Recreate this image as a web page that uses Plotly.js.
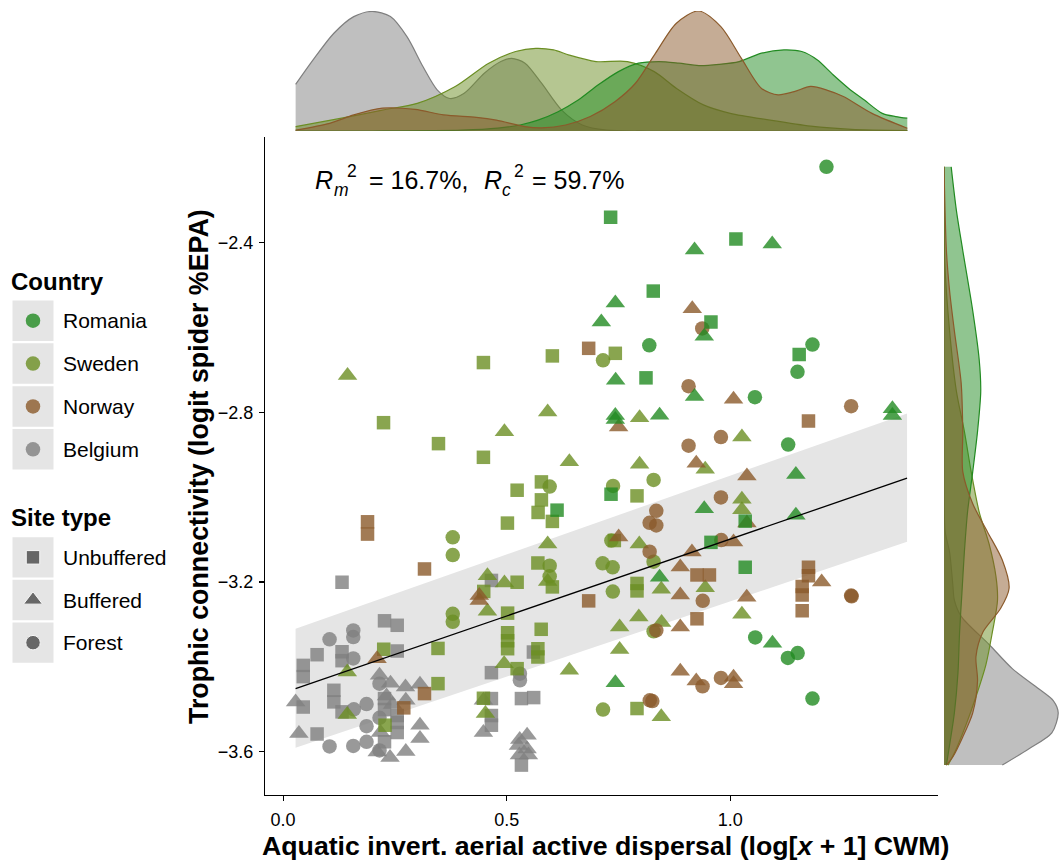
<!DOCTYPE html>
<html>
<head>
<meta charset="utf-8">
<script src="https://cdn.plot.ly/plotly-3.0.1.min.js"></script>
<style>html,body{margin:0;padding:0;background:#fff;}#chart{width:1061px;height:862px;}</style>
</head>
<body>
<div id="chart"></div>
<script>
// ---------------- DATA ----------------
const countries = ['Romania', 'Sweden', 'Norway', 'Belgium'];
const siteTypes = ['Unbuffered', 'Buffered', 'Forest'];
const xTickVals = [0, 0.5, 1.0];
const xTickText = ['0.0', '0.5', '1.0'];
const yTickVals = [-3.6, -3.2, -2.8, -2.4];
const yTickText = ['\u22123.6', '\u22123.2', '\u22122.8', '\u22122.4'];
const r2Marginal = '16.7%';
const r2Conditional = '59.7%';

// Belgium
const belgiumUnbufferedX = [0.1318,0.2268,0.2552,0.0760,0.1318,0.1318,0.2552,0.0451,0.0451,0.1135,0.1135,0.0451,0.1318,0.2268,0.2268,0.2552,0.2552,0.2552,0.0760,0.2268,0.4659,0.5598,0.4659,0.4659,0.5330,0.5604,0.4659,0.4659,0.5330];
const belgiumUnbufferedY = [-3.2005,-3.2914,-3.302,-3.3713,-3.3643,-3.3854,-3.3626,-3.3965,-3.423,-3.4552,-3.4825,-3.4947,-3.506,-3.4747,-3.5006,-3.5147,-3.5311,-3.5547,-3.5582,-3.5765,-3.1962,-3.365,-3.4136,-3.4747,-3.4747,-3.4724,-3.5147,-3.5375,-3.6315];
const belgiumBufferedX = [0.2156,0.2402,0.2737,0.3061,0.0279,0.2313,0.2744,0.0353,0.3061,0.3061,0.2179,0.2105,0.2391,0.2744,0.4480,0.4480,0.5292,0.5457,0.5263,0.5457,0.5285,0.5486,0.2447];
const belgiumBufferedY = [-3.42,-3.4383,-3.4472,-3.4407,-3.4825,-3.4689,-3.4787,-3.557,-3.5375,-3.5687,-3.5547,-3.6005,-3.6134,-3.5993,-3.4787,-3.5547,-3.5711,-3.561,-3.5852,-3.5934,-3.6075,-3.608,-3.4889];
const belgiumForestX = [0.1569,0.1569,0.1039,0.1569,0.2156,0.1866,0.1582,0.2156,0.1866,0.1866,0.1039,0.1569,0.2156,0.5296,0.5296];
const belgiumForestY = [-3.3142,-3.3297,-3.3349,-3.38,-3.4395,-3.4877,-3.4999,-3.5201,-3.5398,-3.5765,-3.5876,-3.5864,-3.597,-3.416,-3.4317];

// Sweden
const swedenUnbufferedX = [0.2246,0.3475,0.448,0.448,0.6022,0.743,0.5777,0.5777,0.5703,0.5234,0.6022,0.5017,0.5698,0.6022,0.5234,0.4487,0.5021,0.5772,0.5021,0.5021,0.5021,0.3464,0.225,0.5698,0.5698,0.5234,0.3464,0.448,0.2279,0.7915,0.7915,0.7915,0.7915,0.7408];
const swedenUnbufferedY = [-2.8244,-2.8738,-2.906,-2.6827,-2.667,-2.6609,-2.964,-3.0063,-3.036,-2.9836,-3.0571,-3.0611,-3.1551,-3.2115,-3.2005,-3.2221,-3.2733,-3.3114,-3.3196,-3.3384,-3.3572,-3.3565,-3.3584,-3.3572,-3.3767,-3.4042,-3.4395,-3.474,-3.5375,-2.9969,-3.2033,-3.2209,-3.4982,-3.1022];
const swedenBufferedX = [0.1441,0.495,0.5917,0.6402,0.7973,1.0261,0.7973,0.9441,1.0261,1.0261,0.5917,0.5917,0.457,0.495,0.457,0.7966,0.8458,0.9441,1.0261,0.7955,0.7526,0.8465,0.7526,0.6402,0.4943,0.1435,0.1435,0.4525,0.8458];
const swedenBufferedY = [-2.7133,-2.8456,-2.7995,-2.9166,-2.8127,-2.8583,-2.9224,-2.9342,-3.0047,-3.0294,-3.1105,-3.1986,-3.185,-3.2021,-3.2691,-3.1105,-3.2169,-3.2132,-3.2757,-3.2827,-3.3062,-3.2954,-3.3589,-3.4082,-3.3925,-3.412,-3.5123,-3.51,-3.5177];
const swedenForestX = [0.7155,0.5962,0.3794,0.3794,0.5962,0.5962,0.3794,0.3794,0.7379,0.8286,0.7341,0.8286,0.7146,0.737,0.7374,0.8286,0.7155];
const swedenForestY = [-2.6773,-2.9749,-3.0947,-3.1363,-3.1615,-3.1864,-3.275,-3.2938,-2.9734,-2.9593,-3.1022,-3.1521,-3.1558,-3.1652,-3.2226,-3.3161,-3.5006];

// Norway
const norwayUnbufferedX = [0.6834,0.1888,0.1888,0.3162,0.3162,0.2699,0.6834,0.9256,0.9535,0.9256,1.175,1.175,1.175,1.1609,1.1609,1.1609];
const norwayUnbufferedY = [-2.6491,-3.058,-3.087,-3.1692,-3.463,-3.4966,-3.2444,-3.1833,-3.1833,-3.2867,-2.8207,-3.1652,-3.185,-3.2103,-3.2303,-3.2679];
const norwayBufferedX = [0.9151,1.0074,0.7504,0.924,1.0373,0.7504,1.0074,0.9144,0.8883,0.8883,1.0369,1.2045,0.8883,0.8883,0.924,1.0074,1.0074,0.4387,0.4387,0.2101,1.0373];
const norwayBufferedY = [-2.5558,-2.769,-2.8343,-2.9201,-2.9499,-3.094,-3.1058,-3.1293,-3.1645,-3.2303,-3.2357,-3.1998,-3.3062,-3.4101,-3.4331,-3.4247,-3.4395,-3.232,-3.2437,-3.3807,-3.0611];
const norwayForestX = [0.9374,0.9068,0.9068,0.9792,1.2704,0.9792,0.8346,0.8197,0.8346,0.9799,0.8197,0.9385,0.8346,1.2704,1.2715,0.9381,0.9792,0.8201,0.8257];
const norwayForestY = [-2.6021,-2.7384,-2.8785,-2.8583,-2.7854,-3.0007,-3.0322,-3.0604,-3.0665,-3.101,-3.1286,-3.2444,-3.3142,-3.232,-3.2338,-3.4458,-3.4261,-3.4787,-3.4806];

// Romania
const romaniaUnbufferedX = [0.7325,1.0127,0.8279,0.9569,1.1542,0.8116,0.7334,1.0335,0.9569,1.0335,0.6127];
const romaniaUnbufferedY = [-2.3403,-2.3913,-2.5142,-2.5871,-2.6639,-2.7187,-2.993,-3.0564,-3.1065,-3.1652,-3.0306];
const romaniaBufferedX = [1.0939,0.9202,0.743,0.7117,0.9419,0.7437,0.9202,0.743,0.743,0.842,1.3627,1.3627,1.1468,0.9419,1.1468,0.842,1.0945,0.743];
const romaniaBufferedY = [-2.4031,-2.4172,-2.5424,-2.5871,-2.6209,-2.7243,-2.7626,-2.8073,-2.8167,-2.8066,-2.7915,-2.8073,-2.9467,-3.0275,-3.0423,-3.1887,-3.3443,-3.4376];
const romaniaForestX = [1.2152,0.819,1.1839,1.1504,1.0552,1.1296,1.0559,1.1289,1.1508,1.1839];
const romaniaForestY = [-2.2214,-2.6421,-2.6404,-2.7046,-2.7643,-2.8761,-3.3307,-3.3789,-3.3673,-3.4747];

// Fitted line and band
const fitX = [0.0279, 1.3955];
const fitY = [-3.4512, -2.9553];
const bandUpper = [-3.3102, -2.8026];
const bandLower = [-3.5906, -3.1051];

// Top marginal densities (x vs density)
const topBelgiumX = [0.028,0.067,0.113,0.158,0.199,0.240,0.277,0.313,0.345,0.373,0.405,0.450,0.487,0.511,0.541,0.578,0.623,0.669,0.724,0.815,1.000,1.396];
const topBelgiumD = [1.16,1.77,2.43,2.85,2.98,2.85,2.35,1.60,1.02,0.81,0.94,1.44,1.73,1.81,1.69,1.19,0.52,0.15,0.02,0.00,0.00,0.00];
const topSwedenX = [0.028,0.131,0.222,0.300,0.385,0.460,0.520,0.565,0.605,0.640,0.700,0.770,0.830,0.880,0.940,1.000,1.089,1.180,1.271,1.396];
const topSwedenD = [0.11,0.32,0.52,0.69,1.11,1.69,1.98,2.06,2.02,1.89,1.73,1.73,1.48,1.06,0.65,0.44,0.27,0.12,0.04,0.01];
const topNorwayX = [0.028,0.104,0.158,0.222,0.295,0.359,0.432,0.477,0.541,0.578,0.632,0.687,0.742,0.788,0.833,0.879,0.929,0.979,1.025,1.070,1.107,1.143,1.180,1.216,1.253,1.317,1.396];
const topNorwayD = [0.02,0.19,0.40,0.57,0.54,0.40,0.34,0.27,0.11,0.08,0.15,0.36,0.73,1.19,1.94,2.68,2.99,2.60,1.81,1.06,0.90,0.98,1.11,1.02,0.86,0.44,0.07];
const topRomaniaX = [0.028,0.200,0.400,0.480,0.530,0.570,0.615,0.660,0.705,0.750,0.795,0.840,0.885,0.930,0.975,1.020,1.070,1.120,1.160,1.195,1.230,1.265,1.300,1.340,1.370,1.396];
const topRomaniaD = [0.00,0.00,0.02,0.07,0.15,0.27,0.48,0.77,1.15,1.48,1.69,1.73,1.69,1.63,1.66,1.73,1.94,2.02,1.98,1.77,1.40,1.06,0.77,0.44,0.36,0.32];

// Right marginal densities (y vs density)
const rightRomaniaY = [-2.2214,-2.3238,-2.4185,-2.5607,-2.6744,-2.7502,-2.845,-2.9397,-3.0345,-3.1293,-3.224,-3.3188,-3.4135,-3.5083,-3.5841,-3.6315];
const rightRomaniaD = [0.18,0.31,0.47,0.72,0.88,0.92,0.84,0.72,0.59,0.51,0.45,0.39,0.35,0.26,0.14,0.06];
const rightNorwayY = [-2.2214,-2.4185,-2.5133,-2.608,-2.7312,-2.845,-2.9397,-3.0155,-3.0819,-3.1482,-3.2145,-3.2619,-3.3188,-3.3757,-3.4325,-3.5083,-3.5652,-3.6125,-3.6315];
const rightNorwayD = [0.00,0.06,0.14,0.26,0.43,0.47,0.47,0.72,1.09,1.46,1.63,1.42,0.97,0.80,0.84,0.72,0.47,0.22,0.06];
const rightSwedenY = [-2.2214,-2.4469,-2.608,-2.7502,-2.845,-2.9397,-3.0345,-3.1103,-3.1861,-3.243,-3.3188,-3.3946,-3.4704,-3.5367,-3.6031,-3.6315];
const rightSwedenD = [0.00,0.02,0.14,0.31,0.51,0.68,0.88,1.13,1.30,1.34,1.21,1.05,0.80,0.55,0.26,0.10];
const rightBelgiumY = [-2.2214,-2.9871,-3.0819,-3.1293,-3.2051,-3.243,-3.2809,-3.3472,-3.4041,-3.4515,-3.4799,-3.5083,-3.5557,-3.5936,-3.6315];
const rightBelgiumD = [0.00,0.00,0.03,0.14,0.22,0.26,0.43,1.13,1.71,2.37,2.74,2.86,2.70,2.12,1.46];

// ---------------- STYLE ----------------
const FONT = 'Liberation Sans, Arial, Helvetica, sans-serif';
const W = 1061, H = 862;
const px = v => v / W;
const py = v => 1 - v / H;
const colorOf = {Romania: [34,139,34], Sweden: [107,142,35], Norway: [139,90,43], Belgium: [127,127,127]};
const rgb = (c, a) => `rgba(${c[0]},${c[1]},${c[2]},${a})`;
const symbolOf = {Unbuffered: 'square', Buffered: 'triangle-up', Forest: 'circle'};
const sizeOf = {Unbuffered: 13.5, Buffered: 17, Forest: 14.5};

const pointSets = {
  Belgium: {Unbuffered: [belgiumUnbufferedX, belgiumUnbufferedY], Buffered: [belgiumBufferedX, belgiumBufferedY], Forest: [belgiumForestX, belgiumForestY]},
  Sweden: {Unbuffered: [swedenUnbufferedX, swedenUnbufferedY], Buffered: [swedenBufferedX, swedenBufferedY], Forest: [swedenForestX, swedenForestY]},
  Norway: {Unbuffered: [norwayUnbufferedX, norwayUnbufferedY], Buffered: [norwayBufferedX, norwayBufferedY], Forest: [norwayForestX, norwayForestY]},
  Romania: {Unbuffered: [romaniaUnbufferedX, romaniaUnbufferedY], Buffered: [romaniaBufferedX, romaniaBufferedY], Forest: [romaniaForestX, romaniaForestY]}
};
const topDens = {Belgium: [topBelgiumX, topBelgiumD], Sweden: [topSwedenX, topSwedenD], Romania: [topRomaniaX, topRomaniaD], Norway: [topNorwayX, topNorwayD]};
const rightDens = {Belgium: [rightBelgiumY, rightBelgiumD], Sweden: [rightSwedenY, rightSwedenD], Romania: [rightRomaniaY, rightRomaniaD], Norway: [rightNorwayY, rightNorwayD]};

const traces = [];

// Marginal densities
['Belgium', 'Sweden', 'Romania', 'Norway'].forEach(c => {
  const [tx, td] = topDens[c];
  traces.push({type: 'scatter', mode: 'lines', x: tx, y: td, xaxis: 'x', yaxis: 'y2',
    line: {color: rgb(colorOf[c], 1), width: 1.2, shape: 'spline', smoothing: 0.8},
    fill: 'tozeroy', fillcolor: rgb(colorOf[c], 0.5), hoverinfo: 'skip'});
  const [ry, rd] = rightDens[c];
  traces.push({type: 'scatter', mode: 'lines', x: rd, y: ry, xaxis: 'x2', yaxis: 'y',
    line: {color: rgb(colorOf[c], 1), width: 1.2, shape: 'spline', smoothing: 0.8},
    fill: 'tozerox', fillcolor: rgb(colorOf[c], 0.5), hoverinfo: 'skip'});
});

// Confidence band
traces.push({type: 'scatter', mode: 'lines', x: [fitX[0], fitX[1], fitX[1], fitX[0]],
  y: [bandUpper[0], bandUpper[1], bandLower[1], bandLower[0]], fill: 'toself',
  fillcolor: '#e5e5e5', line: {width: 0, color: '#e5e5e5'}, xaxis: 'x', yaxis: 'y', hoverinfo: 'skip'});

// Points
['Belgium', 'Sweden', 'Norway', 'Romania'].forEach(c => {
  ['Unbuffered', 'Buffered', 'Forest'].forEach(s => {
    const [xs, ys] = pointSets[c][s];
    traces.push({type: 'scatter', mode: 'markers', x: xs, y: ys, xaxis: 'x', yaxis: 'y', name: c + ' ' + s,
      marker: {symbol: symbolOf[s], size: sizeOf[s], color: rgb(colorOf[c], 1), opacity: 0.8, line: {width: 0}}});
  });
});

// Fitted line
traces.push({type: 'scatter', mode: 'lines', x: fitX, y: fitY, xaxis: 'x', yaxis: 'y',
  line: {color: '#000', width: 1.3}, hoverinfo: 'skip'});

// Legend keys (boxes + symbols)
traces.push({type: 'bar', orientation: 'h', x: countries.map(() => 1), y: countries, base: 0, width: 0.945,
  marker: {color: '#e5e5e5', line: {width: 0}}, xaxis: 'x3', yaxis: 'y3', hoverinfo: 'skip'});
traces.push({type: 'bar', orientation: 'h', x: siteTypes.map(() => 1), y: siteTypes, base: 0, width: 0.945,
  marker: {color: '#e5e5e5', line: {width: 0}}, xaxis: 'x3', yaxis: 'y4', hoverinfo: 'skip'});
traces.push({type: 'scatter', mode: 'markers', x: countries.map(() => 0.5), y: countries, xaxis: 'x3', yaxis: 'y3',
  marker: {symbol: 'circle', size: 14.5, color: countries.map(c => rgb(colorOf[c], 1)), opacity: 0.8}, hoverinfo: 'skip'});
traces.push({type: 'scatter', mode: 'markers', x: siteTypes.map(() => 0.5), y: siteTypes, xaxis: 'x3', yaxis: 'y4',
  marker: {symbol: siteTypes.map(s => symbolOf[s]), size: siteTypes.map(s => s === 'Buffered' ? 16.5 : sizeOf[s]), color: '#333333'}, hoverinfo: 'skip'});

// Legend layout geometry (pixels)
const countryTop = 299.3, countryPitch = 42.85, siteTop = 536, sitePitch = 42.67;

const annotations = [];
const txt = (text, xPix, yPix, size, extra) => Object.assign({xref: 'paper', yref: 'paper', x: px(xPix), y: py(yPix),
  xanchor: 'left', yanchor: 'middle', showarrow: false, text: text, font: {family: FONT, size: size, color: '#000'}}, extra || {});

countries.forEach((c, i) => annotations.push(txt(c, 60.5, countryTop + (i + 0.5) * countryPitch, 21)));
siteTypes.forEach((s, i) => annotations.push(txt(s, 60.5, siteTop + (i + 0.5) * sitePitch, 21)));
annotations.push(txt('<b>Country</b>', 9, 281, 24));
annotations.push(txt('<b>Site type</b>', 9, 517, 24));

// R² statement, pieces placed individually (main text, subscript, superscript)
annotations.push(txt('<i>R</i>', 313, 180, 25));
annotations.push(txt('<i>m</i>', 331.5, 189.5, 17.5));
annotations.push(txt('2', 345, 171, 17.5));
annotations.push(txt('= ' + r2Marginal + ',', 366.5, 180, 25));
annotations.push(txt('<i>R</i>', 481.5, 180, 25));
annotations.push(txt('<i>c</i>', 499.5, 189.5, 17.5));
annotations.push(txt('2', 512, 171, 17.5));
annotations.push(txt('= ' + r2Conditional, 530, 180, 25));

// Axis titles
annotations.push(txt('<b>Aquatic invert. aerial active dispersal (log[<i>x</i> + 1] CWM)</b>', 605, 846, 26.7, {xanchor: 'center'}));
annotations.push(txt('<b>Trophic connectivity (logit spider %EPA)</b>', 199, 467, 26.8, {xanchor: 'center', textangle: -90}));

const axisCommon = {showgrid: false, zeroline: false, showline: true, linecolor: '#000', linewidth: 1.1,
  ticks: 'outside', ticklen: 5, tickwidth: 1.1, tickcolor: '#000', tickfont: {family: FONT, size: 18, color: '#000'}, fixedrange: true};

const layout = {
  width: W, height: H, margin: {l: 0, r: 0, t: 0, b: 0}, showlegend: false,
  paper_bgcolor: '#fff', plot_bgcolor: 'rgba(0,0,0,0)', font: {family: FONT, color: '#000'},
  xaxis: Object.assign({}, axisCommon, {domain: [px(265), px(937.7)], range: [-0.0405, 1.464], anchor: 'y',
    tickmode: 'array', tickvals: xTickVals, ticktext: xTickText, ticklabelstandoff: 3}),
  yaxis: Object.assign({}, axisCommon, {domain: [py(795), py(137)], range: [-3.702, -2.151], anchor: 'x',
    tickmode: 'array', tickvals: yTickVals, ticktext: yTickText, ticklabelstandoff: 2}),
  yaxis2: {domain: [py(131), py(11)], range: [0, 2.99], anchor: 'x', visible: false, fixedrange: true},
  xaxis2: {domain: [px(944), 1], range: [0, 2.93], anchor: 'y', visible: false, fixedrange: true},
  xaxis3: {domain: [px(12.3), px(53.7)], range: [0, 1], anchor: 'y3', visible: false, fixedrange: true},
  yaxis3: {domain: [py(countryTop + 4 * countryPitch), py(countryTop)], type: 'category', categoryorder: 'array', categoryarray: countries,
    range: [3.5, -0.5], anchor: 'x3', visible: false, fixedrange: true},
  yaxis4: {domain: [py(siteTop + 3 * sitePitch), py(siteTop)], type: 'category', categoryorder: 'array', categoryarray: siteTypes,
    range: [2.5, -0.5], anchor: 'x3', visible: false, fixedrange: true},
  annotations: annotations
};

Plotly.newPlot('chart', traces, layout, {displayModeBar: false, staticPlot: true});
</script>
</body>
</html>
